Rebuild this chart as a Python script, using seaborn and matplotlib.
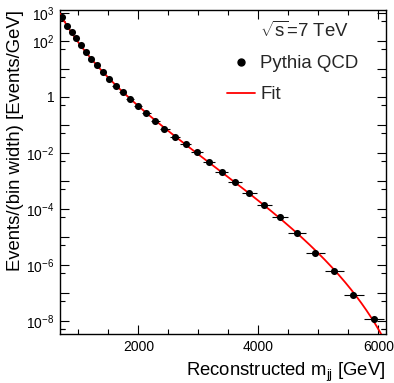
import numpy as np
import pandas as pd
import matplotlib
matplotlib.use("Agg")
import matplotlib.pyplot as plt
from matplotlib.lines import Line2D
from matplotlib.ticker import FixedLocator, FixedFormatter, MultipleLocator, NullFormatter
import seaborn as sns

# ---- data ----
mass_centers = [723, 805, 885, 965, 1045, 1128, 1215, 1305, 1402, 1508, 1620,
                1738, 1862, 1992, 2130, 2276, 2435, 2607, 2788, 2980, 3180,
                3390, 3612, 3850, 4095, 4362, 4640, 4945, 5262, 5583, 5933]
bin_edges = [693, 765, 845, 925, 1005, 1087, 1170, 1260, 1353, 1455, 1564,
             1679, 1800, 1927, 2061, 2203, 2356, 2521, 2697, 2884, 3080,
             3285, 3501, 3731, 3972, 4228, 4501, 4792, 5103, 5422, 5758, 6099]
events = [702, 344, 205, 125, 73.8, 39.4, 22.2, 13.9, 7.62, 4.40, 2.54,
          1.51, 0.849, 0.478, 0.262, 0.143, 0.0738, 0.0382, 0.0209, 0.0106,
          4.97e-3, 2.18e-3, 9.44e-4, 3.82e-4, 1.39e-4, 5.06e-5, 1.43e-5,
          2.75e-6, 6.25e-7, 8.28e-8, 1.15e-8]
sqrt_s = 7000.0
ytick_vals = [1e3, 1e2, 1e1, 1e0, 1e-1, 1e-2, 1e-3, 1e-4, 1e-5, 1e-6, 1e-7, 1e-8]
ytick_labels = [r"$10^{3}$", r"$10^{2}$", "", "1", "", r"$10^{-2}$", "",
                r"$10^{-4}$", "", r"$10^{-6}$", "", r"$10^{-8}$"]
xtick_vals = [2000, 4000, 6000]
legend_labels = [r"$\sqrt{\mathrm{s}}$=7 TeV", "Pythia QCD", "Fit"]
xlabel = r"Reconstructed m$_{\mathrm{jj}}$ [GeV]"
ylabel = "Events/(bin width) [Events/GeV]"

# ---- fit of the standard dijet function to the data (log-linear least squares) ----
m = np.array(mass_centers, float)
y = np.array(events, float)
xx = m / sqrt_s
A = np.column_stack([np.ones_like(xx), np.log(1 - xx), -np.log(xx), -np.log(xx) ** 2])
coef, *_ = np.linalg.lstsq(A, np.log(y), rcond=None)
mgrid = np.linspace(bin_edges[0], bin_edges[-1], 400)
xg = mgrid / sqrt_s
Ag = np.column_stack([np.ones_like(xg), np.log(1 - xg), -np.log(xg), -np.log(xg) ** 2])
fit_df = pd.DataFrame({"m": mgrid, "f": np.exp(Ag @ coef)})
pts_df = pd.DataFrame({"m": m, "y": y})

edges = np.array(bin_edges, float)
xerr = np.vstack([m - edges[:-1], edges[1:] - m])

# ---- style ----
sns.set_theme(style="ticks")
plt.rcParams["font.family"] = ["Liberation Sans", "DejaVu Sans"]
plt.rcParams["mathtext.fontset"] = "custom"
plt.rcParams["mathtext.rm"] = "Liberation Sans"
plt.rcParams["mathtext.it"] = "Liberation Sans:italic"
plt.rcParams["mathtext.bf"] = "Liberation Sans:bold"

fig = plt.figure(figsize=(3.94, 3.83), dpi=100)
ax = fig.add_axes([60 / 394, 1 - 334 / 383, 325.7 / 394, 324 / 383])

ax.errorbar(m, y, xerr=xerr, fmt="none", ecolor="black", elinewidth=0.8, capsize=0, zorder=2)
sns.lineplot(data=fit_df, x="m", y="f", color="red", linewidth=1.3, ax=ax, zorder=3)
sns.scatterplot(data=pts_df, x="m", y="y", color="black", s=26, edgecolor="black",
                linewidth=0, ax=ax, zorder=4)

ax.set_yscale("log")
ax.set_xlim(bin_edges[0], 6123)
ax.set_ylim(10 ** -8.464, 10 ** 3.107)

ax.xaxis.set_major_locator(FixedLocator(xtick_vals))
ax.xaxis.set_minor_locator(MultipleLocator(500))
ax.yaxis.set_major_locator(FixedLocator(ytick_vals))
ax.yaxis.set_major_formatter(FixedFormatter(ytick_labels))
ax.yaxis.set_minor_locator(FixedLocator([5 * v / 10 for v in ytick_vals] + [5e-9]))
ax.yaxis.set_minor_formatter(NullFormatter())

ax.tick_params(which="both", direction="in", top=True, right=True, color="black",
               width=0.8, labelsize=10, labelcolor="black")
ax.tick_params(which="major", length=6.5)
ax.tick_params(which="minor", length=3.6)
ax.tick_params(axis="x", pad=4)
ax.tick_params(axis="y", pad=4)
for s in ax.spines.values():
    s.set_color("black")
    s.set_linewidth(1.0)

ax.set_xlabel(xlabel, fontsize=13.3, color="black", ha="right")
ax.xaxis.set_label_coords(1.0, -0.082)
ax.xaxis.label.set_va("top")
ax.set_ylabel(ylabel, fontsize=13.3, color="black", ha="right")
ax.yaxis.set_label_coords(-0.112, 1.0)

handles = [Line2D([], [], linestyle="none", marker=None),
           Line2D([], [], linestyle="none", marker="o", color="black", markersize=5),
           Line2D([], [], color="red", linewidth=1.3)]
leg = ax.legend(handles, legend_labels, loc="upper left",
                bbox_to_anchor=(227 / 394, 1 - 21 / 383), bbox_transform=fig.transFigure,
                frameon=False, fontsize=13.4, handlelength=1.5, handletextpad=0.3,
                borderpad=0, borderaxespad=0, labelspacing=0.75)

fig.savefig("out.png", dpi=100)
